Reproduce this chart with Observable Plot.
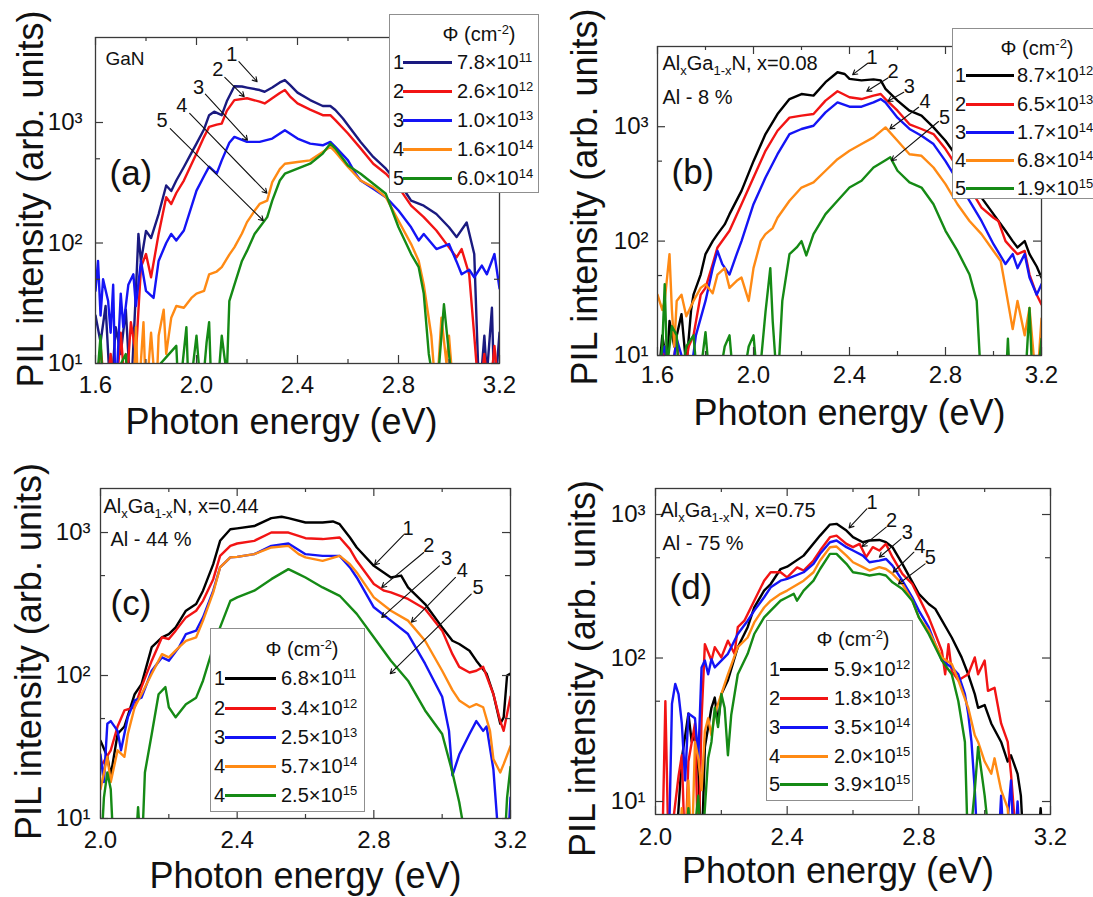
<!DOCTYPE html>
<html>
<head>
<meta charset="utf-8">
<script src="https://cdn.jsdelivr.net/npm/d3@7"></script>
<script src="https://cdn.jsdelivr.net/npm/@observablehq/plot@0.6"></script>
<style>
  html, body { margin: 0; padding: 0; background: #fff; overflow: hidden; }
  #fig { position: relative; width: 1093px; height: 897px; overflow: hidden; font-family: "Liberation Sans", Arial, sans-serif; color: #111; background: #fff; }
  .pane { position: absolute; }
  .leg { position: absolute; background: #fff; border: 1px solid #8f8f8f; box-sizing: border-box; font-size: 20px; color: #111; }
  .leg span { position: absolute; white-space: nowrap; line-height: 24px; height: 24px; }
  .leg .ln { position: absolute; height: 3px; }
  .leg sup { font-size: 13px; vertical-align: baseline; position: relative; top: -7px; line-height: 0; }
</style>
</head>
<body>
<div id="fig"></div>
<script>
// ---------------- tick values ----------------
const xMajorAB = [1.6, 2.0, 2.4, 2.8, 3.2];
const xMinorAB = [1.8, 2.2, 2.6, 3.0];
const xMajorCD = [2.0, 2.4, 2.8, 3.2];
const xMinorCD = [2.2, 2.6, 3.0];
const yMajor = [10, 100, 1000];
const yMinor = [50, 500];

const xTitle = "Photon energy (eV)";
const yTitle = "PIL intensity (arb. units)";
const legendHeader = "Φ (cm<sup>-2</sup>)";

// ---------------- colours ----------------
const colorsA = ["#1a1a80", "#f21414", "#1414f5", "#ff8a14", "#158a15"];
const colorsBCD = ["#000000", "#f21414", "#1414f5", "#ff8a14", "#158a15"];

// ---------------- panel (a): GaN  [energy eV, intensity] ----------------
const a1 = [[1.60,25],[1.62,15],[1.64,30],[1.66,5],[1.68,20],[1.70,12],[1.72,28],[1.74,5],[1.76,40],[1.77,119],[1.78,70],[1.80,126],[1.82,110],[1.85,174],[1.88,300],[1.90,270],[1.92,330],[1.95,427],[1.98,560],[2.00,668],[2.03,880],[2.05,1150],[2.07,1230],[2.10,1150],[2.12,1500],[2.15,2000],[2.18,1990],[2.20,1950],[2.25,1860],[2.27,1800],[2.30,1950],[2.33,2150],[2.35,2250],[2.37,2050],[2.40,1770],[2.45,1535],[2.50,1370],[2.53,1370],[2.55,1270],[2.58,1080],[2.60,950],[2.65,690],[2.70,518],[2.75,414],[2.80,310],[2.83,260],[2.85,225],[2.90,204],[2.95,174],[3.00,135],[3.03,112],[3.07,148],[3.10,81],[3.12,5],[3.14,17],[3.15,8],[3.17,29],[3.18,5],[3.20,18]];
const a2 = [[1.60,5],[1.62,14],[1.64,5],[1.66,12],[1.68,5],[1.70,18],[1.72,5],[1.74,22],[1.76,12],[1.78,63],[1.80,81],[1.82,52],[1.85,119],[1.88,240],[1.90,211],[1.92,260],[1.95,330],[1.98,450],[2.00,552],[2.03,760],[2.05,920],[2.08,960],[2.10,980],[2.12,1250],[2.15,1535],[2.20,1590],[2.25,1490],[2.27,1440],[2.30,1590],[2.33,1760],[2.35,1860],[2.37,1650],[2.40,1440],[2.45,1280],[2.50,1150],[2.53,1150],[2.55,1045],[2.60,810],[2.65,610],[2.70,455],[2.75,376],[2.80,291],[2.85,204],[2.90,164],[2.95,127],[3.00,92],[3.03,76],[3.05,89],[3.08,55],[3.10,17],[3.12,5],[3.14,12],[3.16,5],[3.18,14],[3.20,5]];
const a3 = [[1.60,40],[1.61,71],[1.62,25],[1.63,50],[1.65,33],[1.66,18],[1.67,45],[1.68,5],[1.70,38],[1.71,20],[1.73,45],[1.75,55],[1.76,30],[1.78,71],[1.80,40],[1.83,35],[1.85,71],[1.88,100],[1.90,119],[1.92,105],[1.95,127],[1.98,200],[2.00,272],[2.03,360],[2.05,430],[2.08,376],[2.10,485],[2.13,680],[2.15,760],[2.20,690],[2.25,690],[2.30,735],[2.35,863],[2.40,735],[2.45,668],[2.50,647],[2.53,690],[2.55,627],[2.60,485],[2.63,376],[2.65,330],[2.70,282],[2.75,240],[2.80,186],[2.85,135],[2.88,105],[2.90,119],[2.95,89],[3.00,98],[3.03,70],[3.05,55],[3.08,60],[3.10,52],[3.13,65],[3.15,55],[3.18,81],[3.20,42]];
const a4 = [[1.60,5],[1.75,5],[1.76,20],[1.77,5],[1.79,22],[1.80,5],[1.82,18],[1.84,5],[1.85,17],[1.87,28],[1.88,12],[1.90,24],[1.92,30],[1.95,29],[1.98,35],[2.00,38],[2.03,40],[2.05,55],[2.08,58],[2.10,63],[2.13,80],[2.15,92],[2.18,120],[2.20,149],[2.23,185],[2.25,211],[2.28,225],[2.30,320],[2.33,410],[2.35,455],[2.40,470],[2.45,485],[2.50,570],[2.53,630],[2.55,570],[2.60,427],[2.65,330],[2.70,291],[2.75,240],[2.80,153],[2.85,98],[2.88,71],[2.90,45],[2.93,17],[2.95,5],[2.97,24],[2.99,10],[3.00,17],[3.02,5],[3.20,5]];
const a5 = [[1.60,5],[1.62,17],[1.63,5],[1.72,12],[1.73,5],[1.92,14],[1.93,5],[1.96,20],[1.97,5],[2.00,17],[2.02,5],[2.04,15],[2.05,22],[2.06,5],[2.08,5],[2.10,17],[2.12,8],[2.13,33],[2.15,45],[2.18,71],[2.20,86],[2.23,119],[2.25,135],[2.28,164],[2.30,225],[2.33,330],[2.35,376],[2.40,414],[2.45,455],[2.50,552],[2.53,668],[2.55,607],[2.60,440],[2.65,376],[2.70,310],[2.75,256],[2.80,135],[2.85,81],[2.88,63],[2.90,38],[2.92,12],[2.95,5],[2.98,31],[3.00,12],[3.02,5],[3.20,5]];
const aNums = ["1", "2", "3", "4", "5"];
const aFluMant = ["7.8", "2.6", "1.0", "1.6", "6.0"];
const aFluExp = [11, 12, 13, 14, 14];
const aLabelAt = [[2.140,3640],[2.084,2730],[2.008,1960],[1.942,1370],[1.864,1030]];
const aArrowFrom = [[2.168,3200],[2.112,2370],[2.035,1720],[1.973,1190],[1.896,891]];
const aArrowTo = [[2.240,2180],[2.189,1640],[2.202,713],[2.279,259],[2.265,153]];

// ---------------- panel (b): x = 0.08 ----------------
const b1 = [[1.60,5],[1.62,15],[1.64,8],[1.65,20],[1.67,12],[1.70,23],[1.72,8],[1.74,25],[1.75,34],[1.78,51],[1.80,77],[1.83,100],[1.85,115],[1.88,140],[1.90,172],[1.95,275],[2.00,500],[2.05,863],[2.10,1290],[2.15,1745],[2.20,1930],[2.25,1870],[2.30,2450],[2.35,2990],[2.38,2890],[2.40,2620],[2.45,2540],[2.50,2590],[2.53,2540],[2.55,2140],[2.60,1690],[2.65,1380],[2.70,1250],[2.75,986],[2.80,753],[2.85,538],[2.90,360],[2.95,240],[3.00,172],[3.05,123],[3.08,100],[3.10,88],[3.13,100],[3.15,77],[3.18,60],[3.20,48]];
const b2 = [[1.60,5],[1.63,12],[1.65,5],[1.68,14],[1.70,5],[1.73,12],[1.75,15],[1.78,34],[1.80,39],[1.83,63],[1.85,88],[1.90,123],[1.95,210],[2.00,360],[2.05,616],[2.10,922],[2.15,1200],[2.20,1250],[2.25,1290],[2.30,1690],[2.35,2040],[2.40,1810],[2.45,1745],[2.50,1870],[2.53,1930],[2.55,1745],[2.60,1380],[2.65,1050],[2.70,955],[2.75,863],[2.80,637],[2.85,440],[2.90,294],[2.95,196],[3.00,160],[3.02,150],[3.05,100],[3.08,85],[3.10,77],[3.13,82],[3.15,51],[3.18,34],[3.20,28]];
const b3 = [[1.60,8],[1.63,12],[1.65,5],[1.68,14],[1.70,10],[1.73,5],[1.76,15],[1.80,30],[1.83,58],[1.85,82],[1.87,63],[1.90,51],[1.93,77],[1.95,100],[2.00,210],[2.05,360],[2.10,575],[2.15,863],[2.20,955],[2.25,1020],[2.30,1335],[2.35,1630],[2.40,1495],[2.45,1495],[2.50,1630],[2.53,1745],[2.55,1630],[2.60,1200],[2.65,955],[2.70,834],[2.75,705],[2.80,500],[2.85,337],[2.90,225],[2.95,150],[3.00,94],[3.05,63],[3.08,77],[3.10,58],[3.13,77],[3.15,48],[3.18,34],[3.20,42]];
const b4 = [[1.60,34],[1.62,25],[1.63,30],[1.65,77],[1.66,25],[1.67,12],[1.68,30],[1.70,34],[1.72,22],[1.75,30],[1.78,39],[1.80,42],[1.83,35],[1.85,51],[1.88,58],[1.90,39],[1.93,45],[1.95,48],[1.98,30],[2.00,58],[2.03,100],[2.05,115],[2.08,130],[2.10,160],[2.15,225],[2.20,294],[2.25,326],[2.30,412],[2.35,520],[2.40,616],[2.45,705],[2.50,806],[2.55,986],[2.60,753],[2.65,575],[2.70,557],[2.75,440],[2.80,315],[2.85,210],[2.90,150],[2.95,115],[3.00,82],[3.03,67],[3.05,39],[3.08,17],[3.10,30],[3.13,15],[3.15,26],[3.18,5],[3.20,21]];
const b5 = [[1.60,5],[1.62,12],[1.63,42],[1.64,8],[1.66,18],[1.68,15],[1.69,5],[1.72,12],[1.75,15],[1.77,5],[1.80,16],[1.82,5],[1.85,5],[1.88,12],[1.90,15],[1.92,5],[1.95,5],[1.98,12],[2.00,15],[2.02,5],[2.05,24],[2.07,58],[2.08,20],[2.10,5],[2.12,30],[2.15,77],[2.18,88],[2.20,100],[2.22,75],[2.25,115],[2.30,172],[2.35,225],[2.40,294],[2.45,337],[2.50,440],[2.55,510],[2.57,540],[2.60,412],[2.65,326],[2.70,294],[2.75,210],[2.80,123],[2.85,82],[2.90,51],[2.93,30],[2.95,5],[3.05,5],[3.06,14],[3.07,5],[3.13,5],[3.15,26],[3.16,8],[3.18,5],[3.20,14]];
const bNums = ["1", "2", "3", "4", "5"];
const bFluMant = ["8.7", "6.5", "1.7", "6.8", "1.9"];
const bFluExp = [12, 13, 14, 14, 15];
const bLabelAt = [[2.494,4050],[2.582,3050],[2.649,2240],[2.715,1670],[2.796,1210]];
const bArrowFrom = [[2.476,3590],[2.560,2670],[2.626,2000],[2.688,1480],[2.771,1110]];
const bArrowTo = [[2.413,2850],[2.472,2040],[2.560,1670],[2.568,955],[2.575,505]];

// ---------------- panel (c): x = 0.44 ----------------
const c1 = [[2.00,35],[2.02,27],[2.03,20],[2.05,39],[2.07,44],[2.10,74],[2.12,87],[2.15,158],[2.18,185],[2.20,195],[2.22,217],[2.25,284],[2.28,316],[2.30,392],[2.33,601],[2.35,875],[2.38,1055],[2.40,1070],[2.45,1110],[2.50,1260],[2.53,1290],[2.55,1260],[2.60,1175],[2.65,1175],[2.68,1195],[2.70,1143],[2.73,923],[2.75,786],[2.80,585],[2.85,485],[2.88,500],[2.90,413],[2.95,316],[3.00,217],[3.03,175],[3.05,166],[3.08,149],[3.10,127],[3.13,103],[3.15,74],[3.17,46],[3.18,51],[3.19,100],[3.20,103]];
const c2 = [[2.00,23],[2.03,30],[2.05,44],[2.07,57],[2.10,60],[2.12,83],[2.15,127],[2.18,185],[2.20,180],[2.22,206],[2.25,255],[2.28,284],[2.30,333],[2.33,472],[2.35,687],[2.38,807],[2.40,838],[2.45,875],[2.50,1000],[2.55,1000],[2.60,913],[2.65,900],[2.70,923],[2.73,765],[2.75,634],[2.80,436],[2.83,392],[2.85,381],[2.90,343],[2.95,292],[3.00,206],[3.03,141],[3.05,115],[3.08,105],[3.10,108],[3.12,115],[3.15,74],[3.17,48],[3.18,41],[3.20,71]];
const c3 = [[2.00,28],[2.01,18],[2.02,46],[2.03,48],[2.05,41],[2.06,30],[2.08,51],[2.10,67],[2.12,70],[2.15,108],[2.18,134],[2.20,127],[2.23,158],[2.25,195],[2.28,206],[2.30,255],[2.33,392],[2.35,570],[2.38,670],[2.40,676],[2.45,706],[2.50,807],[2.55,838],[2.60,706],[2.65,687],[2.70,687],[2.73,570],[2.75,485],[2.80,300],[2.85,242],[2.90,195],[2.95,121],[3.00,71],[3.02,41],[3.03,20],[3.05,28],[3.08,39],[3.10,48],[3.12,41],[3.13,44],[3.15,22],[3.17,5],[3.19,5],[3.20,14]];
const c4 = [[2.00,16],[2.02,27],[2.03,18],[2.05,30],[2.07,27],[2.08,39],[2.10,60],[2.12,74],[2.15,103],[2.18,141],[2.20,134],[2.23,158],[2.25,175],[2.28,185],[2.30,242],[2.33,381],[2.35,570],[2.38,670],[2.40,676],[2.45,706],[2.50,786],[2.55,807],[2.58,706],[2.60,670],[2.65,634],[2.70,687],[2.73,601],[2.75,526],[2.80,352],[2.85,284],[2.90,242],[2.95,175],[3.00,108],[3.03,79],[3.05,67],[3.08,60],[3.10,63],[3.12,60],[3.14,41],[3.15,26],[3.17,21],[3.18,24],[3.20,32]];
const c5 = [[2.00,5],[2.01,14],[2.02,21],[2.03,16],[2.04,5],[2.10,5],[2.11,12],[2.12,5],[2.13,21],[2.15,39],[2.17,74],[2.19,83],[2.20,60],[2.22,51],[2.25,63],[2.28,70],[2.30,92],[2.33,158],[2.35,217],[2.38,333],[2.40,352],[2.45,392],[2.50,472],[2.55,555],[2.58,512],[2.60,485],[2.65,413],[2.70,361],[2.75,270],[2.80,185],[2.85,127],[2.90,92],[2.95,57],[3.00,39],[3.03,21],[3.05,13],[3.08,5],[3.18,5],[3.19,14],[3.20,23]];
const cNums = ["1", "2", "3", "4", "4"];
const cFluMant = ["6.8", "3.4", "2.5", "5.7", "2.5"];
const cFluExp = [11, 12, 13, 14, 15];
const cLabelAt = [[2.900,1072],[2.961,807],[3.013,652],[3.059,541],[3.105,413]];
const cArrowFrom = [[2.887,963],[2.946,725],[2.992,585],[3.039,485],[3.085,371]];
const cArrowTo = [[2.802,594],[2.823,413],[2.823,255],[2.910,236],[2.848,103]];

// ---------------- panel (d): x = 0.75 ----------------
const d1 = [[2.00,4],[2.06,4],[2.08,20],[2.10,41],[2.11,26],[2.12,29],[2.13,17],[2.14,4],[2.15,24],[2.17,45],[2.18,53],[2.19,35],[2.20,56],[2.22,70],[2.25,119],[2.28,164],[2.30,225],[2.33,295],[2.35,328],[2.38,417],[2.40,433],[2.45,517],[2.50,713],[2.53,851],[2.55,861],[2.58,773],[2.60,695],[2.63,641],[2.65,659],[2.68,665],[2.70,641],[2.72,592],[2.75,453],[2.80,280],[2.83,238],[2.85,220],[2.90,139],[2.93,101],[2.95,77],[2.97,56],[2.98,45],[3.00,47],[3.02,35],[3.05,26],[3.07,19],[3.08,21],[3.10,15.6],[3.11,11],[3.12,4],[3.16,4],[3.17,9],[3.18,4]];
const d2 = [[2.00,4],[2.02,4],[2.03,50],[2.04,4],[2.07,15],[2.08,21],[2.09,4],[2.10,19],[2.12,35],[2.13,4],[2.14,38],[2.15,125],[2.17,96],[2.18,119],[2.20,101],[2.22,132],[2.24,107],[2.25,164],[2.27,182],[2.30,251],[2.33,346],[2.35,396],[2.38,396],[2.40,365],[2.43,428],[2.45,407],[2.48,478],[2.50,561],[2.53,695],[2.55,713],[2.58,624],[2.60,592],[2.62,624],[2.64,504],[2.66,592],[2.68,561],[2.70,624],[2.72,504],[2.75,386],[2.78,328],[2.80,265],[2.83,192],[2.85,147],[2.87,112],[2.88,77],[2.89,125],[2.90,81],[2.92,70],[2.95,77],[2.97,101],[2.98,77],[3.00,96],[3.01,59],[3.03,62],[3.05,35],[3.07,26],[3.08,15.6],[3.10,4]];
const d3 = [[2.00,4],[2.04,4],[2.05,48],[2.06,66],[2.07,56],[2.08,35],[2.09,14],[2.10,41],[2.12,38],[2.13,20],[2.14,86],[2.15,96],[2.16,77],[2.17,98],[2.18,86],[2.20,96],[2.22,107],[2.25,147],[2.28,182],[2.30,214],[2.33,265],[2.35,311],[2.38,346],[2.40,356],[2.45,396],[2.48,453],[2.50,532],[2.53,641],[2.55,659],[2.58,592],[2.60,561],[2.63,517],[2.65,465],[2.68,477],[2.70,490],[2.72,441],[2.75,346],[2.78,265],[2.80,214],[2.83,164],[2.85,125],[2.87,96],[2.90,86],[2.92,77],[2.94,56],[2.95,41],[2.96,26],[2.97,12],[2.98,4],[3.04,4],[3.05,11],[3.06,4],[3.08,14],[3.09,4],[3.10,10],[3.11,4]];
const d4 = [[2.00,4],[2.07,4],[2.08,9],[2.09,4],[2.10,14],[2.11,4],[2.12,26],[2.13,20],[2.14,12],[2.15,31],[2.16,38],[2.17,29],[2.18,41],[2.20,56],[2.22,77],[2.25,119],[2.28,139],[2.30,177],[2.33,225],[2.35,251],[2.38,280],[2.40,295],[2.45,346],[2.48,396],[2.50,478],[2.53,592],[2.55,598],[2.58,517],[2.60,465],[2.63,430],[2.65,407],[2.68,430],[2.70,417],[2.72,386],[2.75,328],[2.78,251],[2.80,192],[2.83,155],[2.85,125],[2.87,101],[2.90,91],[2.92,70],[2.95,45],[2.97,29],[2.98,26],[3.00,19],[3.02,15.6],[3.03,20],[3.05,12],[3.07,9],[3.08,4]];
const d5 = [[2.00,4],[2.09,4],[2.10,9],[2.11,4],[2.13,11],[2.14,4],[2.16,20],[2.17,26],[2.18,45],[2.19,33],[2.20,56],[2.21,45],[2.22,21],[2.23,40],[2.25,77],[2.28,107],[2.30,147],[2.33,192],[2.35,214],[2.38,251],[2.40,265],[2.42,280],[2.43,251],[2.45,295],[2.48,346],[2.50,417],[2.53,532],[2.55,532],[2.58,453],[2.60,396],[2.63,386],[2.65,376],[2.68,386],[2.70,376],[2.72,337],[2.75,303],[2.78,251],[2.80,192],[2.83,147],[2.85,119],[2.87,96],[2.90,77],[2.92,50],[2.94,26],[2.95,4],[2.97,12],[2.98,24],[3.00,11],[3.02,4]];
const dNums = ["1", "2", "3", "4", "5"];
const dFluMant = ["5.9", "1.8", "3.5", "2.0", "3.9"];
const dFluExp = [12, 13, 14, 15, 15];
const dLabelAt = [[2.658,1220],[2.717,908],[2.765,753],[2.803,598],[2.835,499]];
const dArrowFrom = [[2.642,1095],[2.701,816],[2.746,676],[2.785,546],[2.819,453]];
const dArrowTo = [[2.588,807],[2.628,598],[2.680,504],[2.722,396],[2.738,328]];

// ---------------- rendering ----------------
const FONT = "'Liberation Sans', Arial, sans-serif";
const FRAME = "#3a3a3a";
const SUP = {0: "⁰", 1: "¹", 2: "²", 3: "³"};
const SVGNS = "http://www.w3.org/2000/svg";
const fig = document.getElementById("fig");

function richText(svg) {
  svg.querySelectorAll("text").forEach(el => {
    const t = el.textContent;
    if (!t.includes("_{")) return;
    while (el.firstChild) el.removeChild(el.firstChild);
    let down = false;
    t.split(/(_\{[^}]*\})/).filter(Boolean).forEach(part => {
      const ts = document.createElementNS(SVGNS, "tspan");
      if (part.startsWith("_{")) {
        ts.textContent = part.slice(2, -1);
        ts.setAttribute("font-size", "13px");
        if (!down) { ts.setAttribute("dy", "5"); down = true; }
      } else {
        ts.textContent = part;
        if (down) { ts.setAttribute("dy", "-5"); down = false; }
      }
      el.appendChild(ts);
    });
  });
}

function panel(p) {
  const fw = p.frame.r - p.frame.l, fh = p.frame.b - p.frame.t;
  const o = {stroke: FRAME, strokeWidth: 1.2};
  const marks = [];
  p.series.forEach((s, i) => marks.push(
    Plot.line(s, {x: d => d[0], y: d => d[1], stroke: p.colors[i], strokeWidth: 2.4, strokeLinejoin: "round", clip: true})
  ));
  marks.push(Plot.frame({stroke: FRAME, strokeWidth: 1.3}));
  marks.push(
    Plot.tickX(p.xMaj, {x: d => d, insetTop: fh - 8, ...o}),
    Plot.tickX(p.xMaj, {x: d => d, insetBottom: fh - 8, ...o}),
    Plot.tickX(p.xMin, {x: d => d, insetTop: fh - 4, ...o}),
    Plot.tickX(p.xMin, {x: d => d, insetBottom: fh - 4, ...o}),
    Plot.tickY(yMajor, {y: d => d, insetRight: fw - 8, ...o}),
    Plot.tickY(yMajor, {y: d => d, insetLeft: fw - 8, ...o}),
    Plot.tickY(yMinor, {y: d => d, insetRight: fw - 5, ...o}),
    Plot.tickY(yMinor, {y: d => d, insetLeft: fw - 5, ...o})
  );
  marks.push(Plot.axisX(p.xMaj, {tickSize: 0, tickPadding: p.xPad, fontSize: 24, tickFormat: d => d.toFixed(1), label: null}));
  marks.push(Plot.axisY(yMajor, {tickSize: 0, tickPadding: p.yPad, fontSize: 24, tickFormat: d => "10" + SUP[Math.round(Math.log10(d))], label: null}));
  marks.push(Plot.text([xTitle], {text: d => d, frameAnchor: "bottom", textAnchor: "middle", lineAnchor: "middle", dx: p.xt.dx, dy: p.xt.dy, fontSize: 36}));
  marks.push(Plot.text([yTitle], {text: d => d, frameAnchor: "left", textAnchor: "middle", lineAnchor: "middle", rotate: -90, dx: p.yt.x - p.frame.l, dy: p.yt.dy, fontSize: 36}));
  const idx = p.nums.map((_, i) => i);
  marks.push(Plot.arrow(idx, {
    x1: i => p.from[i][0], y1: i => p.from[i][1], x2: i => p.to[i][0], y2: i => p.to[i][1],
    stroke: "#111", strokeWidth: 1.1, headLength: 7
  }));
  marks.push(Plot.text(idx, {x: i => p.lab[i][0], y: i => p.lab[i][1], text: i => String(i + 1), fontSize: 20}));
  p.notes.forEach(n => marks.push(Plot.text([n.t], {text: d => d, frameAnchor: "top-left", textAnchor: "start", lineAnchor: "middle", dx: n.dx, dy: n.dy, fontSize: n.fs})));

  const svg = Plot.plot({
    width: p.box.w, height: p.box.h,
    marginLeft: p.frame.l - p.box.x, marginRight: p.box.x + p.box.w - p.frame.r,
    marginTop: p.frame.t - p.box.y, marginBottom: p.box.y + p.box.h - p.frame.b,
    x: {domain: p.xDom, label: null},
    y: {type: "log", domain: p.yDom, label: null},
    style: {fontFamily: FONT, background: "transparent", color: "#111"},
    marks
  });
  richText(svg);
  const holder = document.createElement("div");
  holder.className = "pane";
  Object.assign(holder.style, {left: p.box.x + "px", top: p.box.y + "px", width: p.box.w + "px", height: p.box.h + "px"});
  holder.appendChild(svg);
  fig.appendChild(holder);

  // legend
  const L = p.leg;
  const box = document.createElement("div");
  box.className = "leg";
  Object.assign(box.style, {left: L.x + "px", top: L.y + "px", width: L.w + "px", height: L.h + "px"});
  const head = document.createElement("span");
  head.innerHTML = legendHeader;
  Object.assign(head.style, {left: L.hx + "px", top: (L.hy - 12) + "px", transform: "translateX(-50%)"});
  box.appendChild(head);
  p.nums.forEach((num, i) => {
    const cy = L.rows[i];
    const n = document.createElement("span");
    n.textContent = num;
    Object.assign(n.style, {left: L.nx + "px", top: (cy - 12) + "px"});
    const ln = document.createElement("div");
    ln.className = "ln";
    Object.assign(ln.style, {left: L.l1 + "px", width: (L.l2 - L.l1) + "px", top: (cy - 1.5) + "px", background: p.colors[i]});
    const tx = document.createElement("span");
    tx.innerHTML = `${p.mant[i]}×10<sup>${p.exp[i]}</sup>`;
    Object.assign(tx.style, {left: L.tx + "px", top: (cy - 12) + "px"});
    box.append(n, ln, tx);
  });
  fig.appendChild(box);
}

panel({
  box: {x: 0, y: 0, w: 546, h: 448}, frame: {l: 95, r: 499, t: 37, b: 363},
  xDom: [1.6, 3.2], yDom: [10, 5075], xMaj: xMajorAB, xMin: xMinorAB, xPad: 12, yPad: 13,
  xt: {dx: -16, dy: 59}, yt: {x: 31, dy: -1.5},
  series: [a1, a2, a3, a4, a5], colors: colorsA, nums: aNums, mant: aFluMant, exp: aFluExp,
  lab: aLabelAt, from: aArrowFrom, to: aArrowTo,
  notes: [{t: "GaN", dx: 10, dy: 21, fs: 19}, {t: "(a)", dx: 14, dy: 136, fs: 35}],
  leg: {x: 389, y: 14, w: 150, h: 179, hx: 89, hy: 19, rows: [47, 76, 105, 134, 163], nx: 3, l1: 13, l2: 62, tx: 67}
});
panel({
  box: {x: 546, y: 0, w: 547, h: 448}, frame: {l: 657, r: 1041, t: 46, b: 355},
  xDom: [1.6, 3.2], yDom: [10, 5025], xMaj: xMajorAB, xMin: xMinorAB, xPad: 10, yPad: 9,
  xt: {dx: 0, dy: 58}, yt: {x: 585, dy: -4},
  series: [b1, b2, b3, b4, b5], colors: colorsBCD, nums: bNums, mant: bFluMant, exp: bFluExp,
  lab: bLabelAt, from: bArrowFrom, to: bArrowTo,
  notes: [{t: "Al_{x}Ga_{1-x}N, x=0.08", dx: 5, dy: 17, fs: 20}, {t: "Al - 8 %", dx: 5, dy: 51, fs: 20}, {t: "(b)", dx: 14, dy: 126, fs: 35}],
  leg: {x: 952, y: 28, w: 160, h: 171, hx: 84, hy: 19, rows: [46, 75, 103, 131, 159], nx: 2, l1: 13, l2: 61, tx: 64}
});
panel({
  box: {x: 0, y: 448, w: 546, h: 449}, frame: {l: 100, r: 510, t: 488, b: 818},
  xDom: [2.0, 3.2], yDom: [10, 2032], xMaj: xMajorCD, xMin: xMinorCD, xPad: 12, yPad: 10,
  xt: {dx: 0, dy: 58}, yt: {x: 29, dy: -2},
  series: [c1, c2, c3, c4, c5], colors: colorsBCD, nums: cNums, mant: cFluMant, exp: cFluExp,
  lab: cLabelAt, from: cArrowFrom, to: cArrowTo,
  notes: [{t: "Al_{x}Ga_{1-x}N, x=0.44", dx: 3, dy: 18.5, fs: 20}, {t: "Al - 44 %", dx: 10, dy: 51.5, fs: 20}, {t: "(c)", dx: 10, dy: 115, fs: 35}],
  leg: {x: 210, y: 628, w: 155, h: 184, hx: 91, hy: 20, rows: [49, 79, 108, 137, 166], nx: 3, l1: 14, l2: 65, tx: 70}
});
panel({
  box: {x: 546, y: 448, w: 547, h: 449}, frame: {l: 655, r: 1050, t: 488, b: 814},
  xDom: [2.0, 3.2], yDom: [8.12, 1518], xMaj: xMajorCD, xMin: xMinorCD, xPad: 13, yPad: 10,
  xt: {dx: -15, dy: 57}, yt: {x: 583, dy: 17},
  series: [d1, d2, d3, d4, d5], colors: colorsBCD, nums: dNums, mant: dFluMant, exp: dFluExp,
  lab: dLabelAt, from: dArrowFrom, to: dArrowTo,
  notes: [{t: "Al_{x}Ga_{1-x}N, x=0.75", dx: 5, dy: 22, fs: 20}, {t: "Al - 75 %", dx: 7, dy: 55, fs: 20}, {t: "(d)", dx: 14, dy: 99, fs: 35}],
  leg: {x: 766, y: 620, w: 147, h: 181, hx: 86, hy: 18, rows: [48, 77, 106, 135, 163], nx: 2, l1: 13, l2: 61, tx: 67}
});
</script>
</body>
</html>
